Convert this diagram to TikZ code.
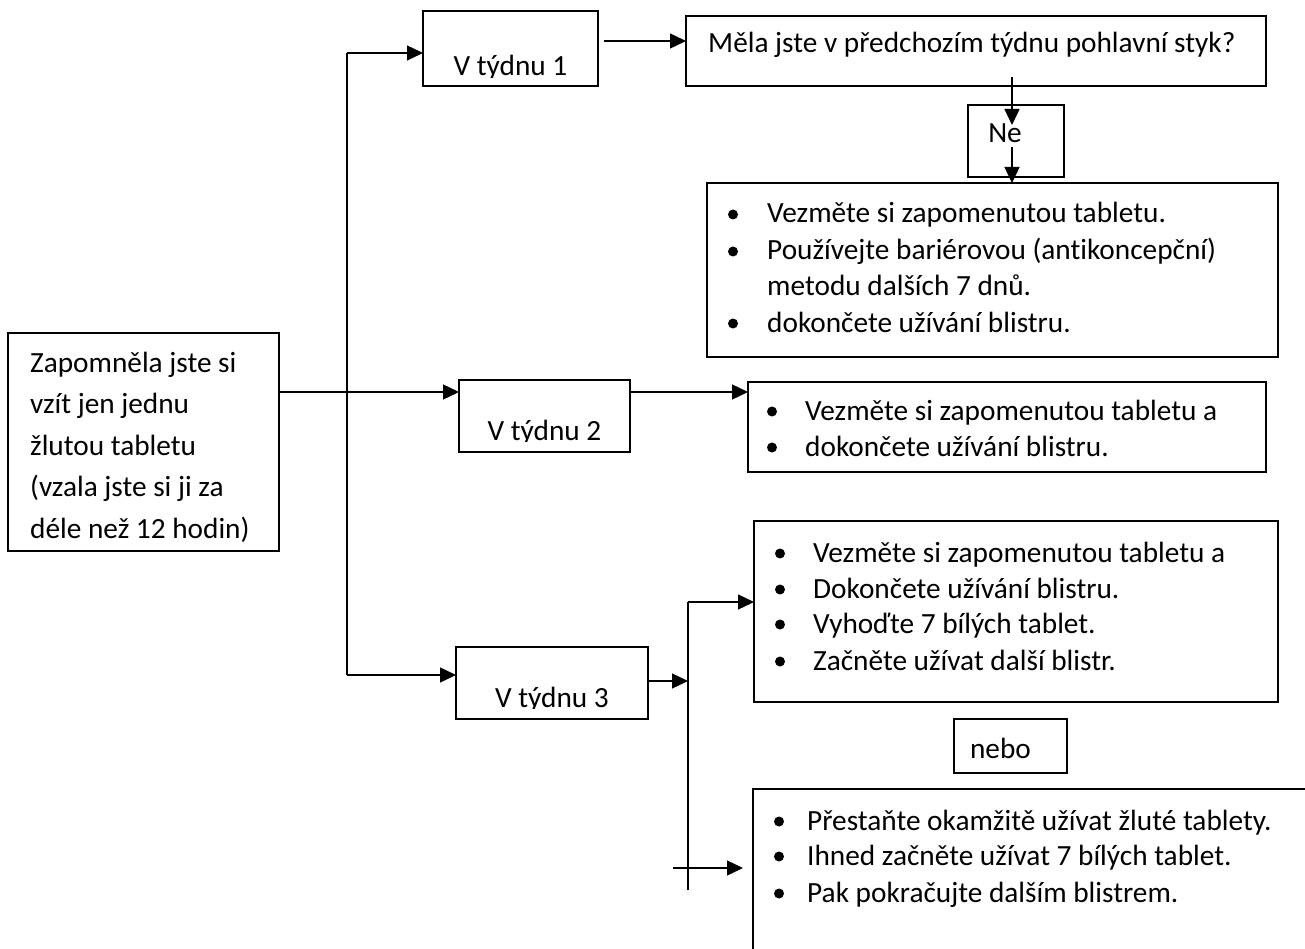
\documentclass[tikz,border=0pt]{standalone}
\usepackage{fontspec}
\setmainfont{Carlito}[Ligatures=CommonOff]
\usetikzlibrary{arrows.meta}
\newcommand\mybox[5]{\node[box, minimum width={(#4-#2)*1pt}, minimum height={(#5-#3)*1pt}] (#1) at (#2,#3) {};}
\newcommand\bitem[5]{\fill (#2,{#4-8.5}) circle (5pt); \node[txt] (#1) at (#3,#4) {#5};}
\begin{document}
\begin{tikzpicture}[x=1pt,y=-1pt,
  box/.style={draw, line width=1.5pt, inner sep=0pt, outer sep=0pt, anchor=north west},
  arr/.style={line width=1.3pt, -{Triangle[length=16pt,width=15pt]}},
  ln/.style={line width=1.3pt},
  txt/.style={anchor=base west, inner sep=0pt, font=\fontsize{29.3}{35}\selectfont},
  ctxt/.style={anchor=base, inner sep=0pt, font=\fontsize{29.3}{35}\selectfont}]
\useasboundingbox (0,0) rectangle (1305,949);
\clip (0,0) rectangle (1305,949);
\fill[white] (0,0) rectangle (1305,949);

\mybox{L}{8}{333}{279}{551}
\mybox{V1}{423}{11}{598}{86}
\mybox{M}{686}{16}{1266}{86}
\mybox{Ne}{968}{105}{1064}{177}
\mybox{B1}{707}{183}{1278}{357}
\mybox{V2}{459}{380}{630}{452}
\mybox{B2}{748}{382}{1266}{472}
\mybox{B3}{754}{521}{1278}{702}
\mybox{V3}{456}{647}{648}{719}
\mybox{Nb}{954}{719}{1067}{773}
\mybox{B4}{753}{789}{1330}{980}

% left box text
\node[txt] (l1) at (30,372) {Zapomněla jste si};
\node[txt] (l2) at (30,413.5) {vzít jen jednu};
\node[txt] (l3) at (30,455) {žlutou tabletu};
\node[txt] (l4) at (30,496.5) {(vzala jste si ji za};
\node[txt] (l5) at (30,538) {déle než 12 hodin)};

% week boxes (text clipped at the box's lower part)
\begin{scope}
\clip (V1.north west) rectangle ([yshift=8.5pt]V1.south east);
\node[ctxt] (v1t) at (510.5,76) {V týdnu 1};
\end{scope}
\begin{scope}
\clip (V2.north west) rectangle ([yshift=10.5pt]V2.south east);
\node[ctxt] (v2t) at (544.5,440) {V týdnu 2};
\end{scope}
\begin{scope}
\clip (V3.north west) rectangle ([yshift=10.5pt]V3.south east);
\node[ctxt] (v3t) at (552,707) {V týdnu 3};
\end{scope}

\node[txt] (mt) at (708,53) {Měla jste v předchozím týdnu pohlavní styk?};
\node[ctxt] (net) at (1005,143) {Ne};
\node[ctxt] (nbt) at (1000.5,758) {nebo};

% box 1
\bitem{b11}{733}{767}{223}{Vezměte si zapomenutou tabletu.}
\bitem{b12}{733}{767}{260}{Používejte bariérovou (antikoncepční)}
\node[txt] (b13) at (767,296) {metodu dalších 7 dnů.};
\bitem{b14}{733}{767}{332}{dokončete užívání blistru.}

% box 2
\bitem{b21}{772}{805}{420}{Vezměte si zapomenutou tabletu a}
\bitem{b22}{772}{805}{456}{dokončete užívání blistru.}

% box 3
\bitem{b31}{780}{813}{562}{Vezměte si zapomenutou tabletu a}
\bitem{b32}{780}{813}{598}{Dokončete užívání blistru.}
\bitem{b33}{780}{813}{633}{Vyhoďte 7 bílých tablet.}
\bitem{b34}{780}{813}{670}{Začněte užívat další blistr.}

% box 4
\bitem{b41}{779}{807}{830}{Přestaňte okamžitě užívat žluté tablety.}
\bitem{b42}{779}{807}{865}{Ihned začněte užívat 7 bílých tablet.}
\bitem{b43}{779}{807}{902}{Pak pokračujte dalším blistrem.}

% connectors
\coordinate (jT) at (347,53);
\coordinate (jB) at (347,675);
\draw[ln] (jT) -- (jB);
\draw[arr] (jT) -- (jT -| V1.west);
\draw[arr] (jB) -- (jB -| V3.west);
\coordinate (a2) at (279,392);
\draw[arr] (a2) -- (a2 -| V2.west);
\coordinate (a1) at (604,41);
\draw[arr] (a1) -- (a1 -| M.west);
\coordinate (n1) at (1012,77);
\coordinate (n2) at (1012,125);
\draw[arr] (n1) -- (n2);
\coordinate (n3) at (1012,147);
\draw[arr] (n3) -- (n3 |- B1.north);
\coordinate (a3) at (630,392);
\draw[arr] (a3) -- (a3 -| B2.west);
\coordinate (a4) at (648,681);
\coordinate (kM) at (688,681);
\draw[arr] (a4) -- (kM);
\coordinate (kT) at (688,602);
\coordinate (kB) at (688,890);
\draw[ln] (kT) -- (kB);
\draw[arr] (kT) -- (kT -| B3.west);
\coordinate (a5) at (673,868);
\coordinate (a5e) at (743,868);
\draw[arr] (a5) -- (a5e);
\end{tikzpicture}
\end{document}
